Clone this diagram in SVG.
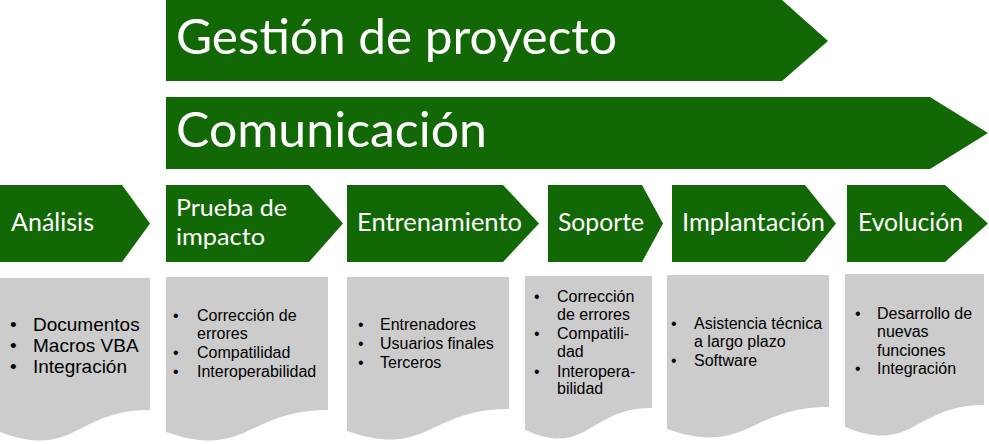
<svg xmlns="http://www.w3.org/2000/svg" width="989" height="444" viewBox="0 0 989 444">
<style>
.g{fill:#126805}
.d{fill:#cccccc}
.t{font-family:Lato,"Open Sans","Noto Sans",sans-serif;fill:#ffffff}
.big{font-size:48px}
.mid{font-size:25px}
.sm{font-size:24px}
.b{font-family:"Liberation Sans",Arial,sans-serif;fill:#000000;font-size:16px}
.b19{font-size:19px}
</style>
<rect width="989" height="444" fill="#ffffff"/>
<g id="gestion">
<polygon class="g" points="166,0 782,0 828,41 782,81 166,81"/>
<text class="t big" x="176" y="54" textLength="441" lengthAdjust="spacingAndGlyphs">Gestión de proyecto</text>
</g>
<g id="comunicacion">
<polygon class="g" points="166,97 930,97 988,133 930,169 166,169"/>
<text class="t big" x="176" y="147" textLength="311" lengthAdjust="spacingAndGlyphs">Comunicación</text>
</g>
<g id="analisis">
<polygon class="g" points="0,185 122,185 150,223.5 122,262 0,262"/>
<text class="t mid" x="11" y="231" textLength="83" lengthAdjust="spacingAndGlyphs">Análisis</text>
</g>
<g id="prueba">
<polygon class="g" points="166,185 309,185 343,223.5 309,262 166,262"/>
<text class="t sm" x="176" y="216" textLength="111" lengthAdjust="spacingAndGlyphs">Prueba de</text>
<text class="t sm" x="176" y="245" textLength="89" lengthAdjust="spacingAndGlyphs">impacto</text>
</g>
<g id="entrenamiento">
<polygon class="g" points="347,185 503,185 539,223.5 503,262 347,262"/>
<text class="t mid" x="357" y="231" textLength="165" lengthAdjust="spacingAndGlyphs">Entrenamiento</text>
</g>
<g id="soporte">
<polygon class="g" points="548,185 642,185 663,223.5 642,262 548,262"/>
<text class="t mid" x="558" y="231" textLength="86" lengthAdjust="spacingAndGlyphs">Soporte</text>
</g>
<g id="implantacion">
<polygon class="g" points="672,185 805,185 836,223.5 805,262 672,262"/>
<text class="t mid" x="682" y="231" textLength="143" lengthAdjust="spacingAndGlyphs">Implantación</text>
</g>
<g id="evolucion">
<polygon class="g" points="847,185 945,185 988,223.5 945,262 847,262"/>
<text class="t mid" x="858" y="231" textLength="105" lengthAdjust="spacingAndGlyphs">Evolución</text>
</g>
<g id="doc-analisis">
<path class="d" d="M0,278 H150 V410 C75,410 75,460 0,432 Z"/>
<g class="b b19">
<text x="10" y="331">•</text><text x="33" y="331">Documentos</text>
<text x="10" y="352">•</text><text x="33" y="352">Macros VBA</text>
<text x="10" y="373">•</text><text x="33" y="373">Integración</text>
</g>
</g>
<g id="doc-prueba">
<path class="d" d="M166,277 H328 V410 C247,410 247,460 166,432 Z"/>
<g class="b">
<text x="173" y="321">•</text><text x="197" y="321">Corrección de</text>
<text x="197" y="339">errores</text>
<text x="173" y="358">•</text><text x="197" y="358">Compatilidad</text>
<text x="173" y="377">•</text><text x="197" y="377">Interoperabilidad</text>
</g>
</g>
<g id="doc-entrenamiento">
<path class="d" d="M347,277 H509 V409 C428,409 428,459 347,431 Z"/>
<g class="b">
<text x="358" y="330">•</text><text x="380" y="330">Entrenadores</text>
<text x="358" y="349">•</text><text x="380" y="349">Usuarios finales</text>
<text x="358" y="368">•</text><text x="380" y="368">Terceros</text>
</g>
</g>
<g id="doc-soporte">
<path class="d" d="M525,276 H652 V408 C588,408 588,458 525,430 Z"/>
<g class="b">
<text x="534" y="302">•</text><text x="557" y="302">Corrección</text>
<text x="557" y="320">de errores</text>
<text x="534" y="339">•</text><text x="557" y="339">Compatili-</text>
<text x="557" y="357">dad</text>
<text x="534" y="377">•</text><text x="557" y="377">Interopera-</text>
<text x="557" y="394">bilidad</text>
</g>
</g>
<g id="doc-implantacion">
<path class="d" d="M667,275 H829 V407 C748,407 748,457 667,429 Z"/>
<g class="b">
<text x="671" y="329">•</text><text x="694" y="329">Asistencia técnica</text>
<text x="694" y="347">a largo plazo</text>
<text x="671" y="366">•</text><text x="694" y="366">Software</text>
</g>
</g>
<g id="doc-evolucion">
<path class="d" d="M845,274 H984 V405 C914,405 914,455 845,427 Z"/>
<g class="b">
<text x="855" y="319">•</text><text x="877" y="319">Desarrollo de</text>
<text x="877" y="337">nuevas</text>
<text x="877" y="356">funciones</text>
<text x="855" y="374">•</text><text x="877" y="374">Integración</text>
</g>
</g>
<g id="connectors"></g>
</svg>
